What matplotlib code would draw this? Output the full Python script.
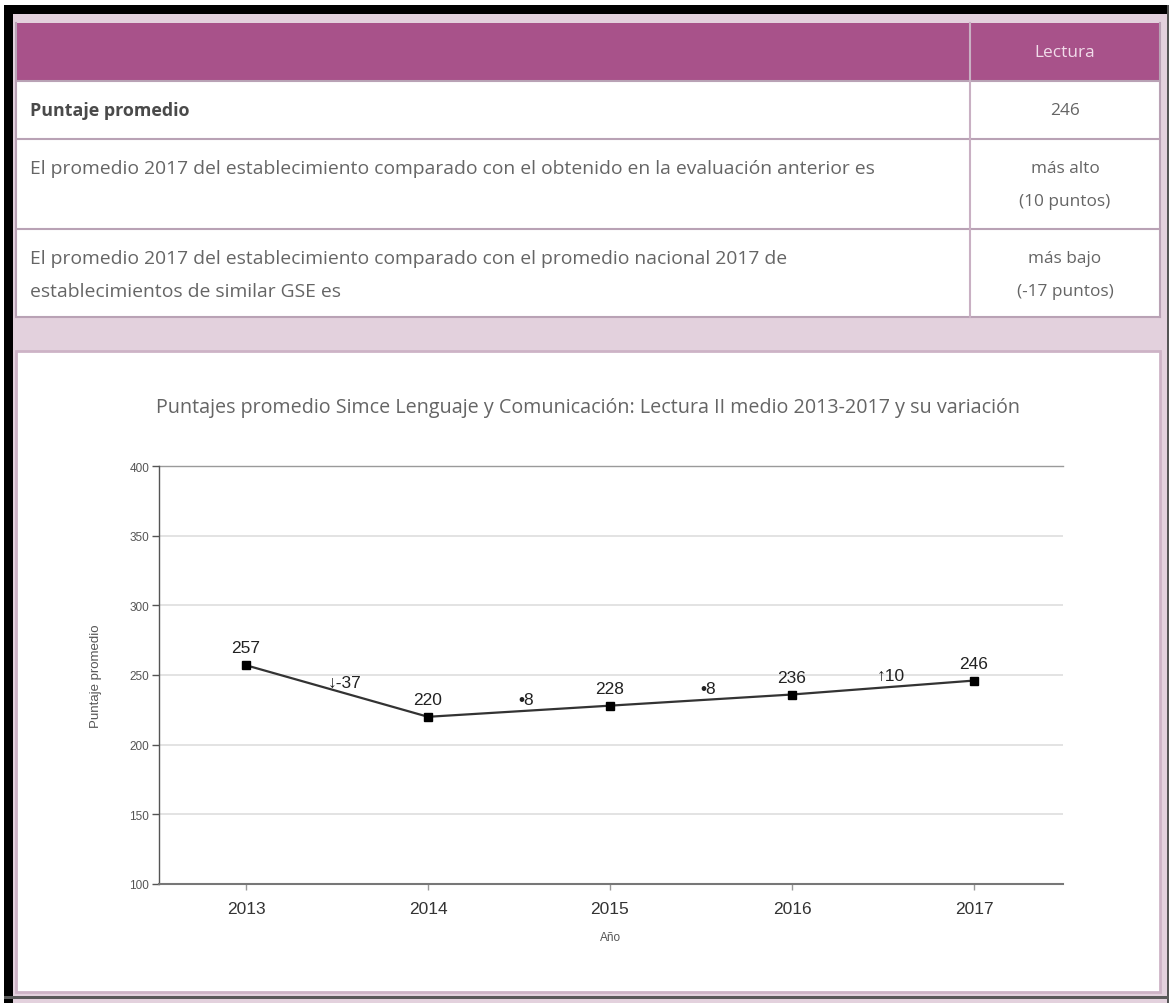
import matplotlib
matplotlib.use("Agg")
import matplotlib.pyplot as plt
from matplotlib.patches import Rectangle

# ---- data ----
years = ["2013", "2014", "2015", "2016", "2017"]
scores = [257, 220, 228, 236, 246]
variation_labels = ["\u2193-37", "\u20228", "\u20228", "\u219110"]
y_ticks = [100, 150, 200, 250, 300, 350, 400]

table_header = "Lectura"
row_labels = [
    ["Puntaje promedio"],
    ["El promedio 2017 del establecimiento comparado con el obtenido en la evaluación anterior es"],
    ["El promedio 2017 del establecimiento comparado con el promedio nacional 2017 de",
     "establecimientos de similar GSE es"],
]
row_values = [["246"], ["más alto", "(10 puntos)"], ["más bajo", "(-17 puntos)"]]

title = "Puntajes promedio Simce Lenguaje y Comunicación: Lectura II medio 2013-2017 y su variación"

# ---- style ----
W, H = 1169, 1004
PURPLE = "#a8528a"
PINK_BG = "#e3d1dd"
GRID_MAUVE = "#b9a2b5"
TXT = "#656565"
UI_FONT = ["Open Sans", "DejaVu Sans"]
CHART_FONT = ["Liberation Sans", "DejaVu Sans"]
UI_SIZE = 13.9

fig = plt.figure(figsize=(W / 100, H / 100), dpi=100)
bg = fig.add_axes([0, 0, 1, 1])
bg.set_xlim(0, W)
bg.set_ylim(H, 0)
bg.axis("off")

def rect(x0, y0, x1, y1, **kw):
    bg.add_patch(Rectangle((x0, y0), x1 - x0, y1 - y0, **kw))

# page background and frame
rect(0, 0, W, H, facecolor="white", edgecolor="none")
rect(4, 6, W, H, facecolor=PINK_BG, edgecolor="none")
rect(4, 6, 13, H, facecolor="black", edgecolor="none")
rect(4, 6, W, 15, facecolor="black", edgecolor="none")
rect(1167, 6, W, H, facecolor="#555555", edgecolor="none")
rect(4, 997, W, 1000, facecolor="#5a5a5a", edgecolor="none")

# table
tx0, tx1, col = 16, 1160, 970
row_edges = [24, 82, 140, 230, 318]
rect(tx0, row_edges[0], tx1, row_edges[1], facecolor=PURPLE, edgecolor="none")
rect(tx0, row_edges[1], tx1, row_edges[-1], facecolor="white", edgecolor="none")
for yy in row_edges[1:]:
    bg.plot([tx0, tx1], [yy, yy], color=GRID_MAUVE, lw=1.5)
bg.plot([tx0, tx0], [row_edges[0], row_edges[-1]], color=GRID_MAUVE, lw=1.5)
bg.plot([tx1, tx1], [row_edges[0], row_edges[-1]], color=GRID_MAUVE, lw=1.5)
bg.plot([col, col], [row_edges[0], row_edges[-1]], color="#c9b0c3", lw=1.5)

col_center = (col + tx1) / 2
bg.text(col_center, 53, table_header, ha="center", va="center",
        fontsize=UI_SIZE - 1.5, color="#f1dcea", family=UI_FONT)

line_gap = 33
for i, (lbl, val) in enumerate(zip(row_labels, row_values)):
    top = row_edges[i + 1]
    first = top + 29
    for k, line in enumerate(lbl):
        bg.text(30, first + k * line_gap, line, ha="left", va="center",
                fontsize=UI_SIZE - (1.0 if i == 0 else 0),
                color="#4a4a4a" if i == 0 else TXT,
                fontweight="bold" if i == 0 else "normal", family=UI_FONT)
    for k, line in enumerate(val):
        bg.text(col_center, first + k * line_gap, line, ha="center", va="center",
                fontsize=UI_SIZE - 1.5, color=TXT, family=UI_FONT)

# chart panel
rect(16, 352, 1160, 993, facecolor="white", edgecolor="#cdb3c6", lw=2)
bg.text(588, 408, title, ha="center", va="center", fontsize=UI_SIZE + 0.3,
        color=TXT, family=UI_FONT)

# chart axes
ax_l, ax_r, ax_t, ax_b = 159, 1063, 467, 885
ax = fig.add_axes([ax_l / W, 1 - ax_b / H, (ax_r - ax_l) / W, (ax_b - ax_t) / H])
ax.patch.set_alpha(0)
x = list(range(len(years)))
ax.set_xlim(-0.478, 4.489)
ax.set_ylim(y_ticks[0], y_ticks[-1])

for t in y_ticks[1:-1]:
    ax.axhline(t, color="#dedede", lw=1.2, zorder=1)
ax.axhline(y_ticks[-1], color="#9a9a9a", lw=1.0, zorder=1, clip_on=False)

ax.plot(x, scores, color="#333333", lw=1.6, marker="s", markersize=6,
        markerfacecolor="black", markeredgecolor="black", zorder=3)

for xi, v in zip(x, scores):
    ax.annotate(str(v), (xi, v), xytext=(0, 12.5), textcoords="offset points",
                ha="center", va="center", fontsize=12.5, color="#222222",
                family=CHART_FONT)

for i, lab in enumerate(variation_labels):
    xm = i + 0.54
    ym = scores[i] + (scores[i + 1] - scores[i]) * 0.54
    ax.annotate(lab, (xm, ym), xytext=(0, 8), textcoords="offset points",
                ha="center", va="center", fontsize=12.5, color="#222222",
                family=CHART_FONT)

for s in ["top", "right"]:
    ax.spines[s].set_visible(False)
ax.spines["left"].set_color("#555555")
ax.spines["bottom"].set_color("#777777")
ax.spines["left"].set_linewidth(1.0)
ax.spines["bottom"].set_linewidth(1.5)

ax.set_yticks(y_ticks)
ax.set_yticklabels([str(t) for t in y_ticks], fontsize=8.5, color="#555555",
                   family=CHART_FONT)
ax.set_xticks(x)
ax.set_xticklabels(years, fontsize=12.5, color="#333333", family=CHART_FONT)
ax.tick_params(axis="y", length=5, width=1, color="#555555", pad=2)
ax.tick_params(axis="x", length=4, width=1, color="#999999", pad=8)

ax.set_ylabel("Puntaje promedio", fontsize=9.5, color="#555555",
              family=CHART_FONT, labelpad=20)
ax.set_xlabel("Año", fontsize=8.5, color="#555555", family=CHART_FONT, labelpad=11)

fig.savefig("out.png", dpi=100)
